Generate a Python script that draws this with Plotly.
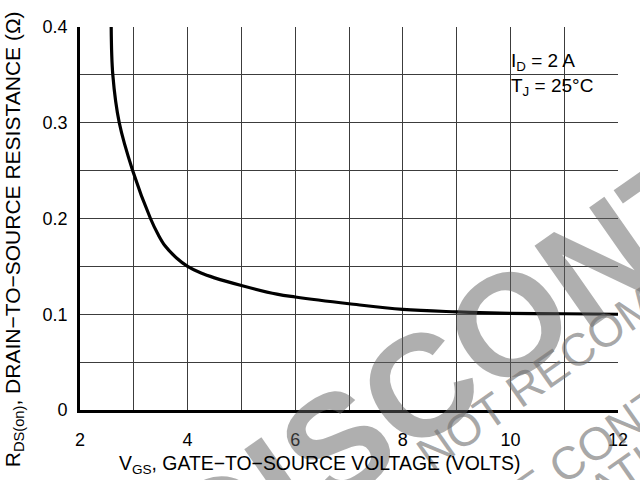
import plotly.graph_objects as go

# ---- data ----
VGS = [2.58, 2.61, 2.73, 2.98, 3.31, 3.45, 3.58, 3.8, 4.0, 4.25, 4.5, 5.0, 5.66, 6.0, 7.0, 8.0, 9.0, 10.0, 11.0, 12.0]
RDS_ON = [0.400, 0.350, 0.300, 0.250, 0.200, 0.1835, 0.1715, 0.1585, 0.150, 0.143, 0.138, 0.130, 0.121,
          0.118, 0.111, 0.105, 0.1025, 0.101, 0.1005, 0.100]

X_TICKS = [2, 4, 6, 8, 10, 12]
X_TICK_LABELS = ["2", "4", "6", "8", "10", "12"]
Y_TICKS = [0, 0.1, 0.2, 0.3, 0.4]
Y_TICK_LABELS = ["0", "0.1", "0.2", "0.3", "0.4"]

X_TITLE = "V<sub>GS</sub>, GATE−TO−SOURCE VOLTAGE (VOLTS)"
Y_TITLE = "R<sub>DS(on)</sub>, DRAIN−TO−SOURCE RESISTANCE (Ω)"
CONDITIONS = "I<sub>D</sub> = 2 A<br>T<sub>J</sub> = 25°C"
WATERMARK = "DISCONTINUED"
NOTE_LINES = ["NOT RECOMMENDED FOR NEW DESIGN",
              "PLEASE CONTACT YOUR ON SEMICONDUCTOR",
              "REPRESENTATIVE FOR INFORMATION"]

FONT = "Liberation Sans, Arial, Helvetica, sans-serif"
GRID = "#3c3c3c"

fig = go.Figure()
fig.add_trace(go.Scatter(
    x=VGS, y=RDS_ON, mode="lines",
    line=dict(color="black", width=3.2, shape="spline", smoothing=1.0),
    hoverinfo="skip", showlegend=False,
))

fig.update_xaxes(
    range=[2, 12], tickmode="array", tickvals=X_TICKS, ticktext=X_TICK_LABELS,
    showgrid=True, gridcolor=GRID, gridwidth=1,
    minor=dict(tickmode="linear", tick0=2, dtick=1, showgrid=True, gridcolor=GRID, gridwidth=1),
    showline=True, linecolor="black", linewidth=2.6,
    ticks="", ticklabelstandoff=12,
    tickfont=dict(family=FONT, size=18, color="black"),
    zeroline=False, fixedrange=True,
)
fig.update_yaxes(
    range=[0, 0.4], tickmode="array", tickvals=Y_TICKS, ticktext=Y_TICK_LABELS,
    showgrid=True, gridcolor=GRID, gridwidth=1,
    minor=dict(tickmode="linear", tick0=0, dtick=0.05, showgrid=True, gridcolor=GRID, gridwidth=1),
    showline=True, linecolor="black", linewidth=2.6,
    ticks="", ticklabelstandoff=6,
    tickfont=dict(family=FONT, size=18, color="black"),
    zeroline=False, fixedrange=True,
)

# white box behind the conditions text (breaks the grid as in the reference)
fig.add_shape(type="rect", xref="x", yref="y", x0=9.68, x1=11.85, y0=0.318, y1=0.381,
              fillcolor="white", line=dict(width=0), layer="below")

WM_FONT = dict(family=FONT, size=145, color="rgba(95,95,95,0.5)", weight="bold")
NOTE_FONT = dict(family=FONT, size=46, color="rgba(110,110,110,0.6)")

annotations = [
    # watermark
    dict(text=WATERMARK, x=1.024, y=0.447, xref="paper", yref="paper", textangle=-35,
         font=WM_FONT, showarrow=False, xanchor="center", yanchor="middle"),
    dict(text=NOTE_LINES[0], x=1.32, y=0.545, xref="paper", yref="paper", textangle=-35,
         font=NOTE_FONT, showarrow=False, xanchor="center", yanchor="middle"),
    dict(text=NOTE_LINES[1], x=1.395, y=0.343, xref="paper", yref="paper", textangle=-35,
         font=NOTE_FONT, showarrow=False, xanchor="center", yanchor="middle"),
    dict(text=NOTE_LINES[2], x=1.1773, y=-0.0052, xref="paper", yref="paper", textangle=-35,
         font=NOTE_FONT, showarrow=False, xanchor="center", yanchor="middle"),
    # conditions
    dict(text=CONDITIONS, x=9.97, y=0.3505, xref="x", yref="y", align="left",
         font=dict(family=FONT, size=19, color="black"),
         showarrow=False, xanchor="left", yanchor="middle"),
    # axis titles
    dict(text=X_TITLE, x=0.446, y=-0.1435, xref="paper", yref="paper",
         font=dict(family=FONT, size=19.4, color="black"),
         showarrow=False, xanchor="center", yanchor="middle"),
    dict(text=Y_TITLE, x=-0.1225, y=0.446, xref="paper", yref="paper", textangle=-90,
         font=dict(family=FONT, size=21, color="black"),
         showarrow=False, xanchor="center", yanchor="middle"),
]

fig.update_layout(
    width=640, height=480,
    margin=dict(l=80, r=13, t=27, b=70),
    paper_bgcolor="white", plot_bgcolor="white",
    font=dict(family=FONT, color="black"),
    annotations=annotations,
    showlegend=False,
)

fig.write_html("out.html", config={"displayModeBar": False},
               post_script="document.body.style.margin='0';")
